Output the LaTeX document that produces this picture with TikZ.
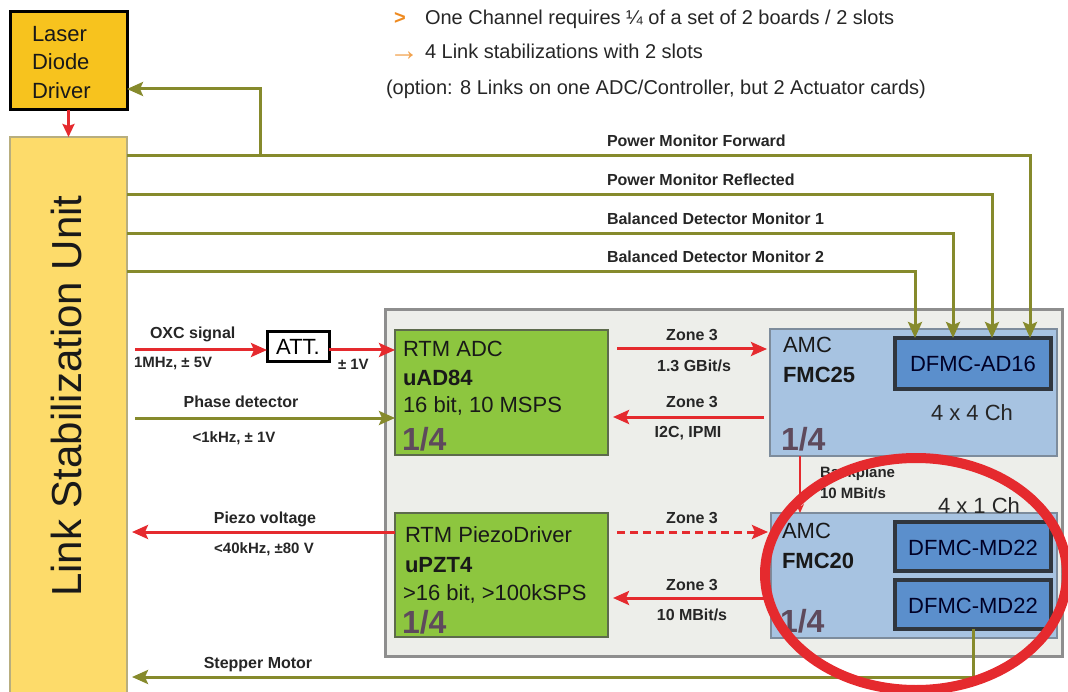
\documentclass[tikz,border=0pt]{standalone}
\usepackage{fontspec}
\setmainfont{Liberation Sans}
\usetikzlibrary{arrows.meta,positioning,calc}
\definecolor{sigred}{HTML}{E52A2E}
\definecolor{olive}{HTML}{868A2C}
\definecolor{lddfill}{HTML}{F7C31E}
\definecolor{lsufill}{HTML}{FDDB6A}
\definecolor{lsuline}{HTML}{B8AE7E}
\definecolor{crate}{HTML}{EDEEEA}
\definecolor{crateline}{HTML}{8E8E8E}
\definecolor{rtm}{HTML}{8DC63F}
\definecolor{rtmline}{HTML}{5D6B4C}
\definecolor{amc}{HTML}{A7C3E1}
\definecolor{amcline}{HTML}{7D8C9C}
\definecolor{fmc}{HTML}{5B8FCC}
\definecolor{fmcline}{HTML}{30363E}
\definecolor{quart}{HTML}{5E4A5C}
\definecolor{bullet}{HTML}{EE8A20}

\begin{document}
\begin{tikzpicture}[x=1pt, y=-1pt,
  every node/.style={inner sep=0pt, outer sep=0pt},
  box/.style={rectangle, anchor=north west},
  lbl/.style={font=\fontsize{16}{16}\selectfont\bfseries, text=black!85},
  small/.style={font=\fontsize{15}{15}\selectfont\bfseries, text=black!85},
  big/.style={font=\fontsize{22}{22}\selectfont, anchor=base west, text=black!90},
  bigb/.style={font=\fontsize{22}{22}\selectfont\bfseries, anchor=base west, text=black!90},
  quarter/.style={font=\fontsize{32}{32}\selectfont\bfseries, anchor=base west, text=quart},
  fmctext/.style={font=\fontsize{22}{22}\selectfont, anchor=base, text=black!85!blue},
  note/.style={font=\fontsize{20}{20}\selectfont, anchor=base west, text=black!85},
  redarr/.style={draw=sigred, line width=3pt, -{Stealth[length=16pt, width=14pt, inset=3pt]}},
  olarr/.style={draw=olive, line width=3pt, -{Stealth[length=16pt, width=14pt, inset=3pt]}}
]
  \useasboundingbox (0,0) rectangle (1068,692);

  % notes on top
  \node[note, text=bullet, font=\fontsize{20}{20}\selectfont\bfseries] (b1) at (394,25) {>};
  \node[note] (n1) at (425,25) {One Channel requires ¼ of a set of 2 boards / 2 slots};
  \node[note, text=bullet!80, font=\fontsize{30}{30}\selectfont] (b2) at (389,61) {→};
  \node[note] (n2) at (425,59) {4 Link stabilizations with 2 slots};
  \node[note] (n3) at (386,95) {(option: 8 Links on one ADC/Controller, but 2 Actuator cards)};

  % left side units
  \node[box, fill=lddfill, draw=black, line width=3pt, minimum width=117pt, minimum height=98pt] (ldd) at (10,12) {};
  \foreach \t/\y [count=\i] in {Laser/42, Diode/70, Driver/99}
    \node[big] (ldd\i) at (32,\y) {\t};
  \node[box, fill=lsufill, draw=lsuline, line width=1.5pt, minimum width=117pt, minimum height=570pt] (lsu) at (10,137) {};
  \node[rotate=90, font=\fontsize{42}{42}\selectfont, text=black!90] (lsu-t) at (66,396) {Link Stabilization Unit};
  \draw[redarr, line width=2.5pt, -{Stealth[length=13pt, width=12pt, inset=2pt]}] (ldd.south) -- (lsu.north);

  % crate with boards
  \node[box, fill=crate, draw=crateline, line width=3pt, minimum width=677pt, minimum height=346pt] (crate) at (385,310) {};
  \node[box, fill=rtm, draw=rtmline, line width=2pt, minimum width=213pt, minimum height=125pt] (adc) at (395,330) {};
  \node[box, fill=rtm, draw=rtmline, line width=2pt, minimum width=213pt, minimum height=124pt] (piezo) at (395,513) {};
  \node[box, fill=amc, draw=amcline, line width=2pt, minimum width=287pt, minimum height=127pt] (fmc25) at (770,329) {};
  \node[box, fill=amc, draw=amcline, line width=2pt, minimum width=286pt, minimum height=125pt] (fmc20) at (771,513) {};
  \node[box, fill=fmc, draw=fmcline, line width=3.5pt, minimum width=156pt, minimum height=51pt] (ad16) at (895,338) {};
  \node[box, fill=fmc, draw=fmcline, line width=3.5pt, minimum width=156pt, minimum height=49pt] (md22a) at (895,522) {};
  \node[box, fill=fmc, draw=fmcline, line width=3.5pt, minimum width=156pt, minimum height=49pt] (md22b) at (895,580) {};

  % board texts
  \node[big] (adc1) at (403,357) {RTM ADC};
  \node[bigb] (adc2) at (403,385) {uAD84};
  \node[big] (adc3) at (403,413) {16 bit, 10 MSPS};
  \node[quarter] (adc4) at (402,450) {1/4};
  \node[big] (pz1) at (405,542) {RTM PiezoDriver};
  \node[bigb] (pz2) at (405,572) {uPZT4};
  \node[big] (pz3) at (403,600) {>16 bit, >100kSPS};
  \node[quarter] (pz4) at (402,633) {1/4};
  \node[big] (f25a) at (783,353) {AMC};
  \node[bigb] (f25b) at (783,383) {FMC25};
  \node[quarter] (f25c) at (781,450) {1/4};
  \node[big] (f20a) at (782,538) {AMC};
  \node[bigb] (f20b) at (782,568) {FMC20};
  \node[quarter] (f20c) at (780,632) {1/4};
  \node[fmctext] (ad16-t) at (973,372) {DFMC-AD16};
  \node[fmctext] (md22a-t) at (973,555) {DFMC-MD22};
  \node[fmctext] (md22b-t) at (973,613) {DFMC-MD22};
  \node[fmctext, text=black!85] (ch44) at (972,420) {4 x 4 Ch};
  \node[fmctext, text=black!85] (ch41) at (979,513) {4 x 1 Ch};

  % monitor signals to the ADC card
  \foreach \y/\x/\txt [count=\i] in {156/1030/Power Monitor Forward, 195/992/Power Monitor Reflected, 234/953/Balanced Detector Monitor 1, 272/915/Balanced Detector Monitor 2}{
    \draw[olarr] (lsu.east |- 0,\y) -| (ad16.north -| \x,0);
    \node[lbl, anchor=base west] (mon\i) at (607,\y-9.5) {\txt};
  }
  \coordinate (tap) at (260,156);
  \draw[olarr] (tap) |- ([yshift=-28pt]ldd.east);

  % inputs to RTM ADC
  \node[box, fill=white, draw=black, line width=3pt, minimum width=62pt, minimum height=30pt, font=\fontsize{22}{22}\selectfont] (att) at (267,332) {ATT.};
  \draw[redarr] ($(lsu.east |- 0,350)+(8,0)$) -- (att.west |- 0,350);
  \draw[redarr] (att.east |- 0,350) -- (adc.west |- 0,350);
  \node[lbl, anchor=base west] (oxc1) at (150,339) {OXC signal};
  \node[small, anchor=base west] (oxc2) at (134,368) {1MHz, ± 5V};
  \node[small, anchor=base west] (att2) at (338,370) {± 1V};
  \draw[olarr] ($(lsu.east |- 0,418)+(8,0)$) -- (adc.west |- 0,418);
  \node[lbl, anchor=base] (ph1) at (241,407) {Phase detector};
  \node[small, anchor=base] (ph2) at (234,442) {<1kHz, ± 1V};

  % outputs to the unit
  \draw[redarr] (piezo.west |- 0,532) -- ($(lsu.east |- 0,532)+(5,0)$);
  \node[lbl, anchor=base] (pv1) at (265,523) {Piezo voltage};
  \node[small, anchor=base] (pv2) at (264,553) {<40kHz, ±80 V};
  \draw[olarr] (md22b.south) |- ($(lsu.east |- 0,677)+(5,0)$);
  \node[lbl, anchor=base] (stm) at (258,668) {Stepper Motor};

  % zone 3 links
  \draw[redarr] ($(adc.east |- 0,349)+(9,0)$) -- ($(fmc25.west |- 0,349)+(-3,0)$);
  \node[lbl, anchor=base] (z1a) at (692,341) {Zone 3};
  \node[lbl, anchor=base] (z1b) at (694,371) {1.3 GBit/s};
  \draw[redarr] ($(fmc25.west |- 0,417)+(-6,0)$) -- ($(adc.east |- 0,417)+(5,0)$);
  \node[lbl, anchor=base] (z2a) at (692,407) {Zone 3};
  \node[lbl, anchor=base] (z2b) at (688,437) {I2C, IPMI};
  \draw[redarr, dash pattern=on 8pt off 5pt] ($(piezo.east |- 0,532)+(9,0)$) -- ($(fmc20.west |- 0,532)+(-3,0)$);
  \node[lbl, anchor=base] (z3a) at (692,523) {Zone 3};
  \draw[redarr] ($(fmc20.west |- 0,598)+(-6,0)$) -- ($(piezo.east |- 0,598)+(5,0)$);
  \node[lbl, anchor=base] (z4a) at (692,590) {Zone 3};
  \node[lbl, anchor=base] (z4b) at (692,620) {10 MBit/s};

  % backplane
  \draw[sigred, line width=2pt, -{Stealth[length=9pt, width=8pt]}] (fmc25.south -| 800,0) -- (fmc20.north -| 800,0);
  \node[small, anchor=base west] (bp1) at (820,477) {Backplane};
  \node[small, anchor=base west] (bp2) at (820,498) {10 MBit/s};

  % highlight
  \draw[sigred, line width=10pt] (916,574) ellipse [x radius=151pt, y radius=116pt];
\end{tikzpicture}
\end{document}
